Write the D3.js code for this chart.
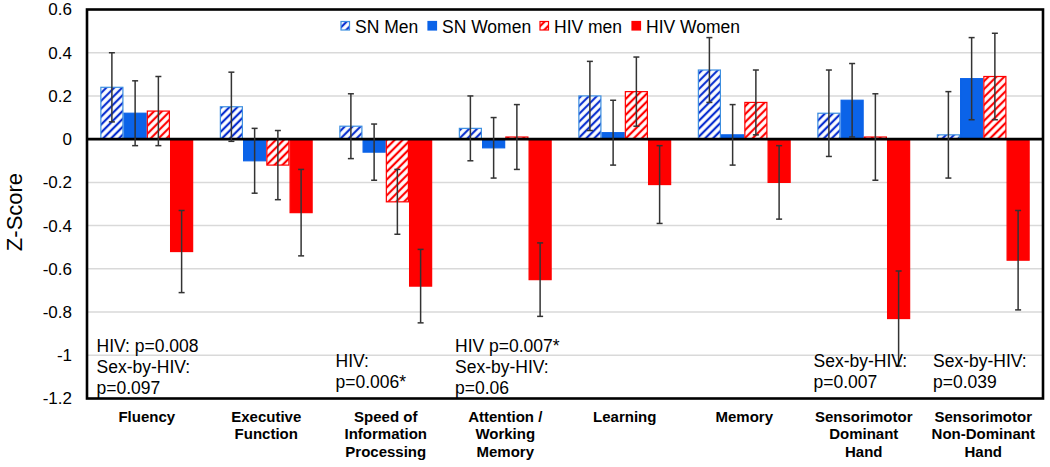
<!DOCTYPE html>
<html>
<head>
<meta charset="utf-8">
<script src="https://cdn.jsdelivr.net/npm/d3@7"></script>
<style>
  html, body { margin: 0; padding: 0; background: #fff; }
  svg { display: block; font-family: "Liberation Sans", Arial, sans-serif; }
</style>
</head>
<body>
<svg id="chart" width="1050" height="467"></svg>
<script>
// ---------- DATA ----------
const categories = [
  "Fluency", "Executive Function", "Speed of Information Processing",
  "Attention / Working Memory", "Learning", "Memory",
  "Sensorimotor Dominant Hand", "Sensorimotor Non-Dominant Hand"
];
const categoryLines = [
  ["Fluency"], ["Executive", "Function"], ["Speed of", "Information", "Processing"],
  ["Attention /", "Working", "Memory"], ["Learning"], ["Memory"],
  ["Sensorimotor", "Dominant", "Hand"], ["Sensorimotor", "Non-Dominant", "Hand"]
];
const seriesNames = ["SN Men", "SN Women", "HIV men", "HIV Women"];

const snMen      = [0.24, 0.15, 0.06, 0.05, 0.20, 0.32, 0.12, 0.02];
const snMenErr   = [0.16, 0.16, 0.15, 0.15, 0.16, 0.15, 0.20, 0.20];
const snWomen    = [0.12, -0.10, -0.06, -0.04, 0.03, 0.02, 0.18, 0.28];
const snWomenErr = [0.15, 0.15, 0.13, 0.14, 0.15, 0.14, 0.17, 0.19];
const hivMen     = [0.13, -0.12, -0.29, 0.01, 0.22, 0.17, 0.01, 0.29];
const hivMenErr  = [0.16, 0.16, 0.15, 0.15, 0.16, 0.15, 0.20, 0.20];
const hivWomen   = [-0.52, -0.34, -0.68, -0.65, -0.21, -0.20, -0.83, -0.56];
const hivWomenErr= [0.19, 0.20, 0.17, 0.17, 0.18, 0.17, 0.22, 0.23];

const yTickValues = [0.6, 0.4, 0.2, 0, -0.2, -0.4, -0.6, -0.8, -1, -1.2];

// annotations: category index + text lines
const annotations = [
  { cat: 0, lines: ["HIV: p=0.008", "Sex-by-HIV:", "p=0.097"], top: true },
  { cat: 2, lines: ["HIV:", "p=0.006*"], top: false },
  { cat: 3, lines: ["HIV p=0.007*", "Sex-by-HIV:", "p=0.06"], top: true },
  { cat: 6, lines: ["Sex-by-HIV:", "p=0.007"], top: false },
  { cat: 7, lines: ["Sex-by-HIV:", "p=0.039"], top: false }
];

// ---------- LAYOUT ----------
const svg = d3.select("#chart");
const plot = { left: 87, right: 1043, top: 9.5, bottom: 398.5 };

const x = d3.scaleBand().domain(categories).range([plot.left, plot.right]).padding(0);
const xs = d3.scaleBand().domain(seriesNames)
  .range([x.bandwidth() * 0.111, x.bandwidth() * 0.889]).padding(0);
const y = d3.scaleLinear().domain([-1.2, 0.6]).range([plot.bottom, plot.top]);

const colors = {
  blueHatch: "#0a2fd0", blueEdge: "#3d8fe0", blueSolid: "#0b63e8",
  red: "#ff0000"
};

// patterns
const defs = svg.append("defs");
function hatch(id, color, bg) {
  const w = 5.6;
  const p = defs.append("pattern").attr("id", id)
    .attr("patternUnits", "userSpaceOnUse").attr("width", w).attr("height", w)
    .attr("patternTransform", "rotate(45)");
  p.append("rect").attr("width", w).attr("height", w).attr("fill", bg);
  p.append("line").attr("x1", w / 2).attr("y1", 0).attr("x2", w / 2).attr("y2", w)
    .attr("stroke", color).attr("stroke-width", 2.2);
}
hatch("hatchBlue", colors.blueHatch, "#fff");
hatch("hatchRed", colors.red, "#fff");

const seriesStyle = {
  "SN Men":    { fill: "url(#hatchBlue)", stroke: colors.blueEdge },
  "SN Women":  { fill: colors.blueSolid, stroke: colors.blueSolid },
  "HIV men":   { fill: "url(#hatchRed)", stroke: colors.red },
  "HIV Women": { fill: colors.red, stroke: colors.red }
};

const seriesData = [
  { name: "SN Men", vals: snMen, errs: snMenErr },
  { name: "SN Women", vals: snWomen, errs: snWomenErr },
  { name: "HIV men", vals: hivMen, errs: hivMenErr },
  { name: "HIV Women", vals: hivWomen, errs: hivWomenErr }
];

// gridlines
svg.append("g").selectAll("line").data(yTickValues.filter(d => d !== 0 && d !== 0.6 && d !== -1.2))
  .join("line")
  .attr("x1", plot.left).attr("x2", plot.right)
  .attr("y1", d => y(d)).attr("y2", d => y(d))
  .attr("stroke", "#d9d9d9").attr("stroke-width", 1.5);

// bars
const flat = [];
seriesData.forEach(s => s.vals.forEach((v, i) => flat.push({ s: s.name, cat: categories[i], v, e: s.errs[i] })));

svg.append("g").selectAll("rect").data(flat).join("rect")
  .attr("x", d => x(d.cat) + xs(d.s) + 0.6)
  .attr("width", xs.bandwidth() - 1.2)
  .attr("y", d => Math.min(y(d.v), y(0)))
  .attr("height", d => Math.abs(y(d.v) - y(0)))
  .attr("fill", d => seriesStyle[d.s].fill)
  .attr("stroke", d => seriesStyle[d.s].stroke)
  .attr("stroke-width", 1.2);

// zero line
svg.append("line").attr("x1", plot.left).attr("x2", plot.right)
  .attr("y1", y(0)).attr("y2", y(0)).attr("stroke", "#000").attr("stroke-width", 2.6);

// error bars
const eg = svg.append("g").attr("stroke", "#333").attr("stroke-width", 1.5);
flat.forEach(d => {
  const cx = x(d.cat) + xs(d.s) + xs.bandwidth() / 2;
  const y1 = y(d.v + d.e), y2 = y(d.v - d.e);
  eg.append("line").attr("x1", cx).attr("x2", cx).attr("y1", y1).attr("y2", y2);
  eg.append("line").attr("x1", cx - 3).attr("x2", cx + 3).attr("y1", y1).attr("y2", y1);
  eg.append("line").attr("x1", cx - 3).attr("x2", cx + 3).attr("y1", y2).attr("y2", y2);
});

// plot border
svg.append("rect").attr("x", plot.left).attr("y", plot.top)
  .attr("width", plot.right - plot.left).attr("height", plot.bottom - plot.top)
  .attr("fill", "none").attr("stroke", "#000").attr("stroke-width", 2.6);

// y axis labels
const yAxis = d3.axisLeft(y).tickValues(yTickValues).tickSize(0).tickPadding(15)
  .tickFormat(d => String(+d.toFixed(1)));
const ya = svg.append("g").attr("transform", `translate(${plot.left},0)`).call(yAxis);
ya.select(".domain").remove();
ya.selectAll("text").attr("font-size", 17).attr("fill", "#000")
  .attr("font-family", "Liberation Sans, Arial, sans-serif");

// y axis title
svg.append("text").attr("transform", `translate(22,212) rotate(-90)`)
  .attr("text-anchor", "middle").attr("font-size", 22).text("Z-Score");

// x category labels
const xl = svg.append("g");
categoryLines.forEach((lines, i) => {
  const t = xl.append("text").attr("x", x(categories[i]) + x.bandwidth() / 2)
    .attr("text-anchor", "middle").attr("font-size", 15).attr("font-weight", "bold");
  lines.forEach((ln, j) => t.append("tspan").attr("x", x(categories[i]) + x.bandwidth() / 2)
    .attr("y", 421.5 + j * 17.5).text(ln));
});

// annotations
const ag = svg.append("g");
annotations.forEach(a => {
  const x0 = x(categories[a.cat]) + 9.5;
  const base = a.top ? 351.5 : 366.5;
  const t = ag.append("text").attr("font-size", 17.5).attr("fill", "#000");
  a.lines.forEach((ln, j) => t.append("tspan").attr("x", x0).attr("y", base + j * 21).text(ln));
});

// legend
const legendX = [341, 428, 540, 632];
const lg = svg.append("g");
seriesNames.forEach((n, i) => {
  lg.append("rect").attr("x", legendX[i]).attr("y", 21.5).attr("width", 8.5).attr("height", 8.5)
    .attr("fill", seriesStyle[n].fill).attr("stroke", seriesStyle[n].stroke).attr("stroke-width", 1.2);
  lg.append("text").attr("x", legendX[i] + 14).attr("y", 33).attr("font-size", 17.5).text(n);
});
</script>
</body>
</html>
